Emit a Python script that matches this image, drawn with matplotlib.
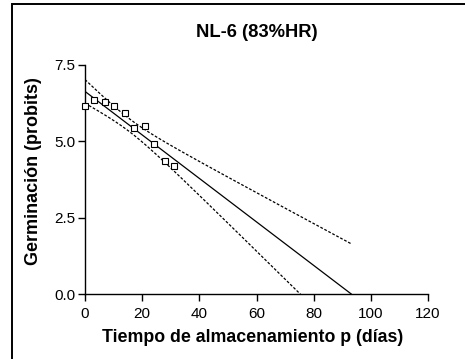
import numpy as np
import matplotlib
matplotlib.use("Agg")
import matplotlib.pyplot as plt
from matplotlib.patches import Rectangle

# Data
dias = [0, 3, 7, 10, 14, 17, 21, 24, 28, 31]
probits = [6.17, 6.34, 6.28, 6.17, 5.93, 5.45, 5.51, 4.91, 4.35, 4.20]
x_ticks = [0, 20, 40, 60, 80, 100, 120]
y_ticks = [0.0, 2.5, 5.0, 7.5]
titulo = "NL-6 (83%HR)"
x_label = "Tiempo de almacenamiento p (días)"
y_label = "Germinación (probits)"

plt.rcParams['font.family'] = ['Liberation Sans', 'DejaVu Sans']

W, H = 465, 359
fig = plt.figure(figsize=(W / 100, H / 100), dpi=100)
ax = fig.add_axes([85 / W, 1 - 294 / H, (428 - 85) / W, (294 - 65) / H])

# Linear regression with 95% confidence band
x = np.array(dias, float)
y = np.array(probits, float)
n = len(x)
b, a = np.polyfit(x, y, 1)
resid = y - (a + b * x)
s = np.sqrt(np.sum(resid ** 2) / (n - 2))
t = 2.306  # t(0.975, 8)
sxx = np.sum((x - x.mean()) ** 2)
x_end = -a / b
xf = np.linspace(0, x_end, 300)
yf = a + b * xf
hw = t * s * np.sqrt(1 / n + (xf - x.mean()) ** 2 / sxx)

ax.plot(xf, yf, color='black', lw=0.9)
ax.plot(xf, yf + hw, color='black', lw=0.9, ls=(0, (2.2, 1.4)))
ax.plot(xf, yf - hw, color='black', lw=0.9, ls=(0, (2.2, 1.4)))
ax.plot(dias, probits, ls='none', marker='s', ms=4.2, mfc='white', mec='black',
        mew=0.8, clip_on=False, zorder=5)

ax.set_xlim(0, 120)
ax.set_ylim(0, 7.5)
ax.set_xticks(x_ticks)
ax.set_yticks(y_ticks)
ax.set_yticklabels([f"{v:.1f}" for v in y_ticks])
for sp in ['top', 'right']:
    ax.spines[sp].set_visible(False)
for sp in ['left', 'bottom']:
    ax.spines[sp].set_linewidth(1.0)
ax.tick_params(axis='both', length=5, width=1.0, labelsize=11, pad=2, colors='black')
ax.tick_params(axis='x', pad=4)

ax.set_title(titulo, fontsize=13.2, fontweight='bold', pad=20)
ax.set_xlabel(x_label, fontsize=12.8, fontweight='bold')
ax.set_ylabel(y_label, fontsize=13, fontweight='bold')
ax.xaxis.set_label_coords(0.49, -0.155)
ax.yaxis.set_label_coords(-0.125, 0.538)

# outer frame
fig.patches.append(Rectangle((12 / W, -0.1), 1.2, (1 - 4.5 / H) + 0.1,
                             transform=fig.transFigure, fill=False,
                             edgecolor='black', lw=1.4))

fig.savefig("out.png", dpi=100)
